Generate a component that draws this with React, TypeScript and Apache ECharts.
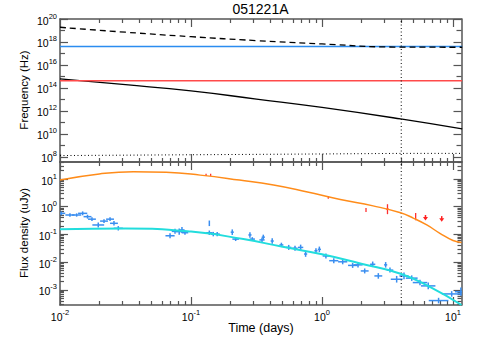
import React, { useEffect, useRef } from "react";
import * as echarts from "echarts";

// ---- data (log10 space) ----
const X_MIN = -2;
const X_MAX = 1.065;
const TOP_Y_MIN = 7.55;
const TOP_Y_MAX = 20;
const BOT_Y_MIN = -3.55;
const BOT_Y_MAX = 1.614;

const X_MAJOR = [-2, -1, 0, 1];
const TOP_Y_MAJOR = [8, 10, 12, 14, 16, 18, 20];
const TOP_Y_MINOR = [9, 11, 13, 15, 17, 19];
const BOT_Y_MAJOR = [-3, -2, -1, 0, 1];

const JET_BREAK = 0.605; // log10(t) of dotted vertical line

// top panel: frequencies
const nuBlue = [[-2, 17.6], [1.07, 17.6]];
const nuRed = [[-2, 14.63], [1.07, 14.63]];
const nuDashed = [[-2, 19.28], [-1.5, 18.85], [-1, 18.46], [-0.5, 18.12], [0, 17.83], [0.55, 17.56], [1.07, 17.54]];
const nuSolid = [[-2, 14.78], [-1.5, 14.28], [-1, 13.74], [-0.5, 13.03], [0, 12.3], [0.6, 11.3], [1.07, 10.43]];
const nuDotted = [[-2, 8.11], [-1, 8.18], [0, 8.25], [0.6, 8.3], [1.07, 8.3]];

// bottom panel: model light curves
const optModel = [[-2, 0.96], [-1.7, 1.18], [-1.44, 1.26], [-1.19, 1.24], [-0.93, 1.14], [-0.63, 0.96], [-0.37, 0.78], [-0.12, 0.54], [0.14, 0.26], [0.39, 0.03], [0.6, -0.22], [0.7, -0.42], [0.8, -0.66], [0.9, -0.96], [1.0, -1.22], [1.065, -1.29]];
const xrayModel = [[-2, -0.816], [-1.5, -0.79], [-1, -0.9], [-0.6, -1.17], [-0.3, -1.45], [0, -1.72], [0.3, -2.06], [0.6, -2.42], [0.82, -2.89], [1.065, -3.55]];

// X-ray data: [logt, logF, dx, dy]
const xrayData = [
  [-1.99, -0.24, 0.03, 0.07], [-1.924, -0.3, 0.035, 0.06], [-1.873, -0.3, 0.035, 0.06],
  [-1.827, -0.24, 0.035, 0.07], [-1.79, -0.36, 0.03, 0.07], [-1.756, -0.45, 0.03, 0.07],
  [-1.708, -0.66, 0.045, 0.09], [-1.664, -0.52, 0.03, 0.07], [-1.618, -0.45, 0.03, 0.07],
  [-1.588, -0.6, 0.03, 0.08], [-1.555, -0.78, 0.035, 0.08], [-1.16, -1.05, 0.035, 0.09],
  [-1.122, -0.89, 0.025, 0.09], [-1.09, -0.9, 0.025, 0.11], [-1.069, -0.84, 0.02, 0.11],
  [-1.046, -0.94, 0.025, 0.07], [-0.86, -0.6, 0.0, 0.1], [-0.86, -0.94, 0.025, 0.08],
  [-0.83, -0.99, 0.02, 0.08], [-0.8, -0.99, 0.02, 0.08], [-0.685, -0.92, 0.012, 0.1],
  [-0.659, -1.17, 0.025, 0.07], [-0.55, -1.02, 0.012, 0.1], [-0.532, -1.17, 0.02, 0.07],
  [-0.458, -1.2, 0.02, 0.08], [-0.448, -1.1, 0.012, 0.09], [-0.38, -1.24, 0.012, 0.1],
  [-0.31, -1.38, 0.015, 0.08], [-0.254, -1.47, 0.02, 0.09], [-0.206, -1.5, 0.02, 0.09],
  [-0.163, -1.47, 0.02, 0.1], [-0.125, -1.71, 0.012, 0.1], [-0.046, -1.59, 0.012, 0.09],
  [-0.02, -1.54, 0.012, 0.1], [0.03, -1.78, 0.025, 0.09], [0.09, -1.95, 0.035, 0.09],
  [0.158, -1.99, 0.035, 0.09], [0.234, -2.12, 0.035, 0.09], [0.275, -2.1, 0.035, 0.1],
  [0.326, -2.32, 0.03, 0.09], [0.387, -2.08, 0.02, 0.1], [0.43, -2.5, 0.03, 0.1],
  [0.486, -2.1, 0.012, 0.1], [0.519, -2.29, 0.025, 0.09], [0.57, -2.62, 0.045, 0.12],
  [0.626, -2.5, 0.035, 0.12], [0.685, -2.58, 0.045, 0.1], [0.748, -2.74, 0.055, 0.1],
  [0.811, -2.86, 0.055, 0.12], [0.89, -3.39, 0.075, 0.1], [0.99, -3.15, 0.075, 0.1],
  [1.06, -3.07, 0.045, 0.15],
];

// optical data: [logt, logF, dx, dy]
const optData = [
  [-0.885, 1.15, 0, 0.04], [-0.85, 1.15, 0, 0.04], [0.048, 0.34, 0, 0.05],
  [0.336, -0.12, 0, 0.07], [0.5, -0.09, 0.01, 0.18], [0.715, -0.36, 0, 0.13],
];
// optical upper limits: [logt, logF]
const optLimits = [[0.79, -0.5], [0.914, -0.54]];

const FONT = "Liberation Sans, Arial, Helvetica, sans-serif";
const AXIS_COLOR = "#555";

function logMinors(lo: number, hi: number): number[] {
  const out: number[] = [];
  for (let d = Math.floor(lo) - 1; d <= Math.ceil(hi); d++) {
    for (let k = 2; k <= 9; k++) {
      const v = d + Math.log10(k);
      if (v > lo && v < hi) out.push(v);
    }
  }
  return out;
}

const X_MINOR = logMinors(X_MIN, X_MAX);
const BOT_Y_MINOR = logMinors(BOT_Y_MIN, BOT_Y_MAX);

const rich = {
  b: { fontSize: 10.5, fontFamily: FONT, color: "#000", lineHeight: 14, verticalAlign: "bottom" },
  s: { fontSize: 7.5, fontFamily: FONT, color: "#000", lineHeight: 8, verticalAlign: "top" },
};
const powFmt = (v: number) => `{b|10}{s|${Math.round(v)}}`;

function makeAxis(
  gridIndex: number,
  position: string,
  min: number,
  max: number,
  ticks: number[],
  len: number,
  labels: number[] | null,
  showLine: boolean
) {
  return {
    type: "value",
    gridIndex,
    position,
    min,
    max,
    splitLine: { show: false },
    axisLine: { show: showLine, onZero: false, lineStyle: { color: AXIS_COLOR, width: 1.5 } },
    axisTick: {
      show: true,
      inside: true,
      length: len,
      customValues: ticks,
      lineStyle: { color: AXIS_COLOR, width: 1.2 },
    },
    axisLabel: labels
      ? {
          show: true,
          customValues: labels,
          formatter: powFmt,
          rich,
          margin: 3,
          showMinLabel: true,
          showMaxLabel: true,
        }
      : { show: false },
  };
}

function crossRender(color: string, width: number) {
  return (params: any, api: any) => {
    const x = api.value(0), y = api.value(1), dx = api.value(2), dy = api.value(3);
    const children: any[] = [];
    if (dx > 0) {
      const l = api.coord([x - dx, y]);
      const r = api.coord([x + dx, y]);
      children.push({ type: "line", shape: { x1: l[0], y1: l[1], x2: r[0], y2: r[1] }, style: { stroke: color, lineWidth: width } });
    }
    const t = api.coord([x, y + dy]);
    const b = api.coord([x, y - dy]);
    children.push({ type: "line", shape: { x1: t[0], y1: t[1], x2: b[0], y2: b[1] }, style: { stroke: color, lineWidth: width } });
    return { type: "group", children };
  };
}

function arrowRender(color: string) {
  return (params: any, api: any) => {
    const x = api.value(0), y = api.value(1);
    const tip = api.coord([x, y]);
    const top = api.coord([x, y + 0.2]);
    return {
      type: "group",
      children: [
        { type: "line", shape: { x1: top[0], y1: top[1], x2: tip[0], y2: tip[1] - 2 }, style: { stroke: color, lineWidth: 1.5 } },
        { type: "polygon", shape: { points: [[tip[0] - 2.5, tip[1] - 3.5], [tip[0] + 2.5, tip[1] - 3.5], [tip[0], tip[1]]] }, style: { fill: color } },
      ],
    };
  };
}

export default function App() {
  const ref = useRef<HTMLDivElement>(null);
  useEffect(() => {
    if (!ref.current) return;
    const chart = echarts.init(ref.current, null, { renderer: "svg" });

    const xAxis: any[] = [];
    const yAxis: any[] = [];
    // grid 0 (top)
    xAxis.push(makeAxis(0, "bottom", X_MIN, X_MAX, X_MAJOR, 8, null, true)); // 0
    xAxis.push(makeAxis(0, "bottom", X_MIN, X_MAX, X_MINOR, 4, null, false));
    xAxis.push(makeAxis(0, "top", X_MIN, X_MAX, X_MAJOR, 8, null, true));
    xAxis.push(makeAxis(0, "top", X_MIN, X_MAX, X_MINOR, 4, null, false));
    yAxis.push(makeAxis(0, "left", TOP_Y_MIN, TOP_Y_MAX, TOP_Y_MAJOR, 8, TOP_Y_MAJOR, true)); // 0
    yAxis.push(makeAxis(0, "left", TOP_Y_MIN, TOP_Y_MAX, TOP_Y_MINOR, 5, null, false));
    yAxis.push(makeAxis(0, "right", TOP_Y_MIN, TOP_Y_MAX, TOP_Y_MAJOR, 8, null, true));
    yAxis.push(makeAxis(0, "right", TOP_Y_MIN, TOP_Y_MAX, TOP_Y_MINOR, 5, null, false));
    // grid 1 (bottom)
    xAxis.push(makeAxis(1, "bottom", X_MIN, X_MAX, X_MAJOR, 8, X_MAJOR, true)); // 4
    xAxis.push(makeAxis(1, "bottom", X_MIN, X_MAX, X_MINOR, 4, null, false));
    xAxis.push(makeAxis(1, "top", X_MIN, X_MAX, X_MAJOR, 8, null, true));
    xAxis.push(makeAxis(1, "top", X_MIN, X_MAX, X_MINOR, 4, null, false));
    yAxis.push(makeAxis(1, "left", BOT_Y_MIN, BOT_Y_MAX, BOT_Y_MAJOR, 8, BOT_Y_MAJOR, true)); // 4
    yAxis.push(makeAxis(1, "left", BOT_Y_MIN, BOT_Y_MAX, BOT_Y_MINOR, 4, null, false));
    yAxis.push(makeAxis(1, "right", BOT_Y_MIN, BOT_Y_MAX, BOT_Y_MAJOR, 8, null, true));
    yAxis.push(makeAxis(1, "right", BOT_Y_MIN, BOT_Y_MAX, BOT_Y_MINOR, 4, null, false));

    const lineS = (data: number[][], color: string, width: number, type: any, xi: number, yi: number, smooth = false) => ({
      type: "line",
      xAxisIndex: xi,
      yAxisIndex: yi,
      data,
      showSymbol: false,
      symbol: "none",
      smooth,
      silent: true,
      lineStyle: { color, width, type },
    });

    const series: any[] = [
      lineS(nuDotted, "#000", 1, [1, 2.5], 0, 0),
      lineS(nuSolid, "#000", 1.3, "solid", 0, 0, true),
      lineS(nuRed, "#ff4a4a", 1.5, "solid", 0, 0),
      lineS(nuBlue, "#2b8cf0", 1.5, "solid", 0, 0),
      lineS(nuDashed, "#000", 1.3, [6, 4], 0, 0, true),
      lineS([[JET_BREAK, TOP_Y_MIN], [JET_BREAK, TOP_Y_MAX]], "#000", 1, [1, 2.5], 0, 0),
      lineS([[JET_BREAK, BOT_Y_MIN], [JET_BREAK, BOT_Y_MAX]], "#000", 1, [1, 2.5], 4, 4),
      lineS(optModel, "#ff8c1a", 1.5, "solid", 4, 4, true),
      lineS(xrayModel, "#22dddd", 2, "solid", 4, 4, true),
      {
        type: "custom",
        xAxisIndex: 4,
        yAxisIndex: 4,
        data: xrayData,
        clip: true,
        silent: true,
        renderItem: crossRender("#3a8ef0", 1.5),
      },
      {
        type: "custom",
        xAxisIndex: 4,
        yAxisIndex: 4,
        data: optData,
        clip: true,
        silent: true,
        renderItem: crossRender("#ff3030", 1.3),
      },
      {
        type: "custom",
        xAxisIndex: 4,
        yAxisIndex: 4,
        data: optLimits,
        clip: true,
        silent: true,
        renderItem: arrowRender("#ff2020"),
      },
    ];

    chart.setOption({
      animation: false,
      backgroundColor: "#fff",
      grid: [
        { left: 60, right: 18.5, top: 19, height: 143 },
        { left: 60, right: 18.5, top: 162, height: 143 },
      ],
      xAxis,
      yAxis,
      series,
      graphic: [
        { type: "text", x: 260.5, y: 8.5, style: { text: "051221A", font: `14px ${FONT}`, fill: "#000", textAlign: "center", textVerticalAlign: "middle" } },
        { type: "text", x: 24, y: 90, rotation: Math.PI / 2, style: { text: "Frequency (Hz)", font: `11.5px ${FONT}`, fill: "#000", textAlign: "center", textVerticalAlign: "middle" } },
        { type: "text", x: 24, y: 233, rotation: Math.PI / 2, style: { text: "Flux density (uJy)", font: `11.5px ${FONT}`, fill: "#000", textAlign: "center", textVerticalAlign: "middle" } },
        { type: "text", x: 261, y: 327.5, style: { text: "Time (days)", font: `12.5px ${FONT}`, fill: "#000", textAlign: "center", textVerticalAlign: "middle" } },
      ],
    });
    return () => chart.dispose();
  }, []);
  return <div ref={ref} style={{ width: 480, height: 343, position: "absolute", left: 0, top: 0 }} />;
}
